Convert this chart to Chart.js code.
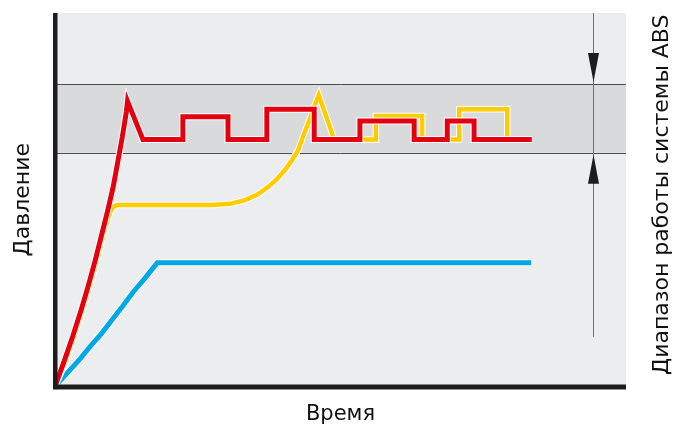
<!DOCTYPE html>
<html>
<head>
<meta charset="utf-8">
<script src="https://cdn.jsdelivr.net/npm/chart.js@4"></script>
<style>
  html, body { margin: 0; padding: 0; background: #fff; }
  canvas { display: block; }
</style>
</head>
<body>
<canvas id="absChart" width="674" height="432"></canvas>
<script>
// Время / Давление, условные единицы 0..100
const redTime      = [0, 1.6, 3.1, 4.5, 5.8, 7.0, 8.1, 9.2, 10.2, 11.0, 11.8, 12.5, 12.7, 15.4, 22.4, 22.4, 30.3, 30.3, 37.1, 37.1, 45.4, 45.4, 53.4, 53.4, 62.9, 62.9, 68.7, 68.7, 73.4, 73.4, 83.5];
const redPressure  = [0, 6.7, 13.4, 20.1, 26.8, 33.5, 40.2, 46.9, 53.5, 60.2, 66.9, 73.6, 76.4, 66.1, 66.1, 72.2, 72.2, 66.1, 66.1, 74.2, 74.2, 66.1, 66.1, 71.1, 71.1, 66.1, 66.1, 71.1, 71.1, 66.1, 66.1];

const yellowTime     = [0, 1.9, 3.4, 4.8, 6.1, 7.3, 8.4, 9.3, 9.8, 10.3, 11.0, 27.5, 30.6, 33.3, 35.6, 37.3, 38.9, 40.3, 41.5, 42.6, 43.6, 44.7, 45.5, 46.2, 48.9, 56.2, 56.2, 64.3, 64.3, 70.8, 70.8, 79.2, 79.2, 82.3];
const yellowPressure = [0, 6.7, 13.4, 20.1, 26.8, 33.5, 40.2, 45.0, 47.2, 48.2, 48.6, 48.6, 48.9, 49.9, 51.5, 53.4, 55.6, 58.0, 60.6, 63.3, 67.6, 71.9, 75.4, 78.0, 66.1, 66.1, 72.4, 72.4, 66.1, 66.1, 74.2, 74.2, 66.1, 66.1];

const blueTime     = [0, 0.9, 2.6, 4.4, 6.1, 8.1, 10.0, 11.9, 13.7, 15.8, 17.9, 83.4];
const bluePressure = [0, 1.5, 4.4, 7.4, 10.6, 14.1, 17.9, 21.6, 25.3, 29.1, 33.1, 33.1];

// диапазон работы ABS и положение стрелки
const absRange = [62.6, 81.0];
const arrowX = 94.2;
const arrowLineEnd = 13.3;

const red = '#e3000f';
const yellow = '#ffcc00';
const blue = '#00a8e6';
const axisColor = '#1d1d20';

function points(xs, ys) {
    return xs.map((x, i) => ({ x: x, y: ys[i] }));
}

function line(data, color, width, order) {
    return {
        data: data,
        borderColor: color,
        borderWidth: width,
        borderJoinStyle: 'miter',
        borderCapStyle: 'butt',
        pointRadius: 0,
        tension: 0,
        fill: false,
        order: order
    };
}

const redData = points(redTime, redPressure);
const yellowData = points(yellowTime, yellowPressure);
const blueData = points(blueTime, bluePressure);

// фон, полоса диапазона, стрелка, оси, подпись справа
const backdrop = {
    id: 'backdrop',
    beforeDatasetsDraw(chart) {
        const { ctx, chartArea: a, scales: { x, y } } = chart;
        ctx.save();
        ctx.fillStyle = '#ecedef';
        ctx.fillRect(a.left, a.top, a.right - a.left, a.bottom - a.top);

        const yTop = y.getPixelForValue(absRange[1]);
        const yBot = y.getPixelForValue(absRange[0]);
        ctx.fillStyle = '#d9dadc';
        ctx.fillRect(a.left, yTop, a.right - a.left, yBot - yTop);
        ctx.strokeStyle = '#4d4d4f';
        ctx.lineWidth = 1;
        ctx.beginPath();
        ctx.moveTo(a.left, Math.round(yTop) + 0.5);
        ctx.lineTo(a.right, Math.round(yTop) + 0.5);
        ctx.moveTo(a.left, Math.round(yBot) + 0.5);
        ctx.lineTo(a.right, Math.round(yBot) + 0.5);
        ctx.stroke();

        const ax = Math.round(x.getPixelForValue(arrowX)) + 0.5;
        ctx.strokeStyle = '#6d6e70';
        ctx.beginPath();
        ctx.moveTo(ax, a.top);
        ctx.lineTo(ax, y.getPixelForValue(arrowLineEnd));
        ctx.stroke();

        ctx.fillStyle = '#1d1d1f';
        const head = 29, half = 5.5;
        ctx.beginPath();
        ctx.moveTo(ax, yTop - 2);
        ctx.lineTo(ax - half, yTop - 2 - head);
        ctx.lineTo(ax + half, yTop - 2 - head);
        ctx.closePath();
        ctx.fill();
        ctx.beginPath();
        ctx.moveTo(ax, yBot + 2);
        ctx.lineTo(ax - half, yBot + 2 + head);
        ctx.lineTo(ax + half, yBot + 2 + head);
        ctx.closePath();
        ctx.fill();
        ctx.restore();
    },
    afterDatasetsDraw(chart) {
        const { ctx, chartArea: a } = chart;
        ctx.save();
        ctx.fillStyle = axisColor;
        ctx.fillRect(a.left - 2, a.top, 4.5, a.bottom - a.top + 2.5);
        ctx.fillRect(a.left - 2, a.bottom - 2, a.right - a.left + 2, 5);
        ctx.restore();
    },
    afterDraw(chart) {
        const { ctx, chartArea: a } = chart;
        ctx.save();
        ctx.translate(662, (a.top + a.bottom) / 2 - 5);
        ctx.rotate(-Math.PI / 2);
        ctx.font = '22px "DejaVu Sans"';
        ctx.fillStyle = '#111';
        ctx.textAlign = 'center';
        ctx.textBaseline = 'middle';
        ctx.fillText('Диапазон работы системы ABS', 0, 0);
        ctx.restore();
    }
};

new Chart(document.getElementById('absChart'), {
    type: 'line',
    data: {
        datasets: [
            line(redData, red, 5, 0),
            line(redData, '#ffffff', 7, 1),
            line(yellowData, yellow, 4.5, 2),
            line(yellowData, '#ffffff', 6.5, 3),
            line(blueData, blue, 5, 4),
            line(blueData, '#ffffff', 7, 5)
        ]
    },
    options: {
        responsive: false,
        animation: false,
        layout: { padding: { top: 13, right: 48, left: 0, bottom: 0 } },
        plugins: { legend: { display: false }, tooltip: { enabled: false } },
        scales: {
            x: {
                type: 'linear', min: 0, max: 100,
                grid: { display: false, drawTicks: false },
                ticks: { display: false },
                border: { display: false },
                title: { display: true, text: 'Время', color: '#111', font: { family: '"DejaVu Sans"', size: 21 }, padding: { top: 15.9, bottom: 4.4 } }
            },
            y: {
                type: 'linear', min: 0, max: 100,
                grid: { display: false, drawTicks: false },
                ticks: { display: false },
                border: { display: false },
                title: { display: true, text: 'Давление', color: '#111', font: { family: '"DejaVu Sans"', size: 22 }, padding: { top: 10, bottom: 18.6 } }
            }
        }
    },
    plugins: [backdrop]
});
</script>
</body>
</html>
